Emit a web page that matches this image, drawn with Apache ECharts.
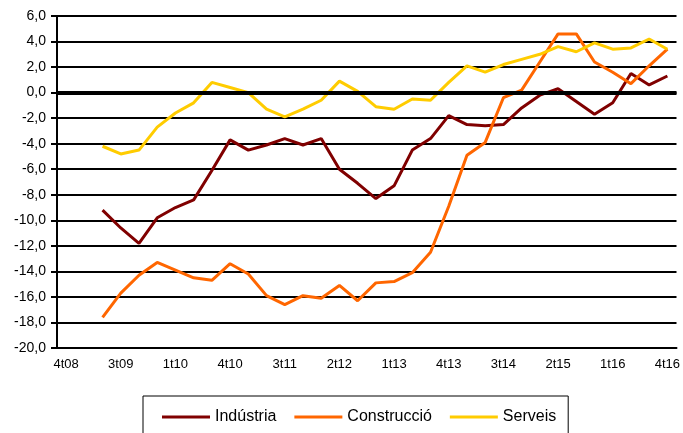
<!DOCTYPE html>
<html>
<head>
<meta charset="utf-8">
<script src="https://cdn.jsdelivr.net/npm/echarts@6/dist/echarts.min.js"></script>
<style>
  html, body { margin: 0; padding: 0; background: #fff; }
  #chart { width: 683px; height: 433px; }
</style>
</head>
<body>
<div id="chart"></div>
<script>
// quarters, only every third one is labelled on the axis
var categories = [
    '4t08', '', '', '3t09', '', '', '1t10', '', '', '4t10', '', '',
    '3t11', '', '', '2t12', '', '', '1t13', '', '', '4t13', '', '',
    '3t14', '', '', '2t15', '', '', '1t16', '', '', '4t16'
];

var industria = [null, null,
    -9.2, -10.6, -11.8, -9.8, -9.0, -8.4, -6.1, -3.7, -4.5, -4.1, -3.6, -4.1,
    -3.6, -6.0, -7.1, -8.3, -7.3, -4.5, -3.6, -1.8, -2.5, -2.6, -2.5, -1.2,
    -0.2, 0.3, -0.7, -1.7, -0.8, 1.5, 0.6, 1.3];

var construccio = [null, null,
    -17.6, -15.7, -14.3, -13.3, -13.9, -14.5, -14.7, -13.4, -14.2, -15.9, -16.6, -15.9,
    -16.1, -15.1, -16.3, -14.9, -14.8, -14.1, -12.5, -8.9, -4.9, -3.9, -0.4, 0.2,
    2.4, 4.6, 4.6, 2.4, 1.6, 0.7, 2.1, 3.4];

var serveis = [null, null,
    -4.2, -4.8, -4.5, -2.7, -1.6, -0.8, 0.8, 0.4, 0.0, -1.3, -1.9, -1.3,
    -0.6, 0.9, 0.1, -1.1, -1.3, -0.5, -0.6, 0.8, 2.1, 1.6, 2.2, 2.6,
    3.0, 3.6, 3.2, 3.9, 3.4, 3.5, 4.2, 3.4];

var font = 'Liberation Sans, Arial, sans-serif';

var option_sectors = {
    animation: false,
    textStyle: { fontFamily: font },
    grid: {
        left: 57,
        top: 16,
        right: 4,
        bottom: 85
    },
    legend: {
        data: ['Indústria', 'Construcció', 'Serveis'],
        left: 143,
        top: 396,
        icon: 'rect',
        itemWidth: 48,
        itemHeight: 3,
        itemGap: 18,
        padding: [13, 12, 30, 19],
        borderColor: '#000',
        borderWidth: 1,
        textStyle: {
            fontFamily: font,
            fontSize: 16,
            color: '#000'
        }
    },
    xAxis: {
        type: 'category',
        boundaryGap: true,
        data: categories,
        axisLine: {
            onZero: false,
            lineStyle: { color: '#000', width: 2 }
        },
        axisTick: { show: false },
        axisLabel: {
            interval: 0,
            margin: 10,
            fontSize: 13,
            color: '#000'
        }
    },
    yAxis: {
        type: 'value',
        min: -20,
        max: 6,
        interval: 2,
        axisLine: {
            show: true,
            lineStyle: { color: '#000', width: 2 }
        },
        axisTick: {
            show: true,
            length: 6,
            lineStyle: { color: '#000', width: 2 }
        },
        axisLabel: {
            margin: 11,
            fontSize: 14,
            color: '#000',
            formatter: function (v) {
                return v.toFixed(1).replace('.', ',');
            }
        },
        splitLine: {
            lineStyle: { color: '#000', width: 2 }
        }
    },
    series: [
        {
            name: 'Indústria',
            type: 'line',
            data: industria,
            showSymbol: false,
            color: '#800000',
            lineStyle: { width: 3 },
            markLine: {
                silent: true,
                symbol: 'none',
                label: { show: false },
                lineStyle: { color: '#000', width: 4, type: 'solid' },
                data: [{ yAxis: 0 }]
            }
        },
        {
            name: 'Construcció',
            type: 'line',
            data: construccio,
            showSymbol: false,
            color: '#FF6600',
            lineStyle: { width: 3 }
        },
        {
            name: 'Serveis',
            type: 'line',
            data: serveis,
            showSymbol: false,
            color: '#FFCC00',
            lineStyle: { width: 3 }
        }
    ]
};

var sectorsChart = echarts.init(document.getElementById('chart'));
sectorsChart.setOption(option_sectors, true);
</script>
</body>
</html>
